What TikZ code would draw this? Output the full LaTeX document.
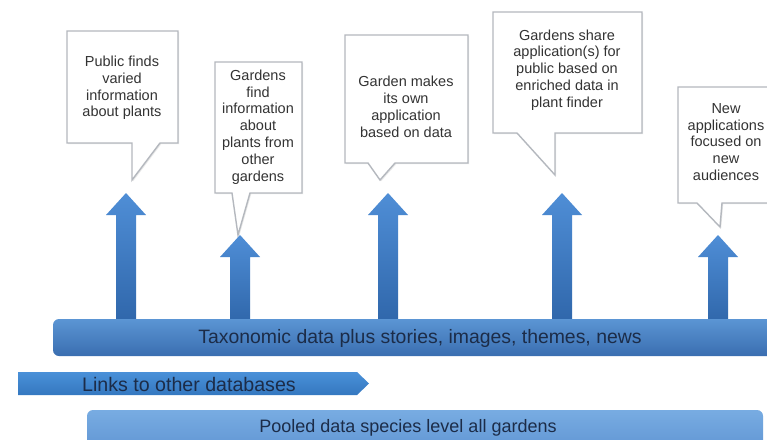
\documentclass[tikz,border=0pt]{standalone}
\usepackage{fontspec}
\setmainfont{Liberation Sans}
\usetikzlibrary{shadows}
\definecolor{arrowtop}{HTML}{4F8ED6}
\definecolor{arrowbot}{HTML}{2F66AA}
\definecolor{bartop}{HTML}{5B95D4}
\definecolor{barbot}{HTML}{3A6EB0}
\definecolor{linktop}{HTML}{4A90D8}
\definecolor{linkbot}{HTML}{3478C0}
\definecolor{pooltop}{HTML}{78ACE2}
\definecolor{poolbot}{HTML}{5E93D2}
\definecolor{bartext}{HTML}{1C2C48}
\definecolor{calltext}{HTML}{333333}
\definecolor{callline}{HTML}{B4B8BE}
\tikzset{
  callout/.style={draw=callline, line width=1.4pt, fill=white, line join=miter,
    drop shadow={shadow xshift=1.2pt, shadow yshift=-1.2pt, opacity=0.18}},
  calltxt/.style={align=center, text=calltext, font=\fontsize{14.5}{16.8}\selectfont, inner sep=0pt},
  upshaft/.style={top color=arrowtop, bottom color=arrowbot, draw=none},
  bartxt/.style={text=bartext, font=\fontsize{19.4}{22}\selectfont, inner sep=0pt},
  mainbar/.style={top color=bartop, bottom color=barbot, rounded corners=6pt},
  linkbar/.style={top color=linktop, bottom color=linkbot},
  poolbar/.style={top color=pooltop, bottom color=poolbot, rounded corners=6pt},
}
% name, x, tip y
\newcommand\bluearrow[3]{%
  \coordinate (#1) at (#2,#3);
  \path[upshaft] (#1) -- (#2+20,#3+22) -- (#2+10,#3+22) -- (#2+10,324) -- (#2-10,324)
     -- (#2-10,#3+22) -- (#2-20,#3+22) -- cycle;
}
% name, left, top, right, bottom, base left, base right, tip x, tip y
\newcommand\calloutbox[9]{%
  \coordinate (#1) at (#8,#9);
  \path[callout] (#2,#3) -- (#4,#3) -- (#4,#5) -- (#7,#5) -- (#1) -- (#6,#5) -- (#2,#5) -- cycle;
}
\begin{document}
\begin{tikzpicture}[x=1pt,y=-1pt]
\useasboundingbox (0,0) rectangle (767,439);
\clip (0,0) rectangle (767,439);
\fill[white] (0,0) rectangle (767,439);

% callouts
\calloutbox{p1}{67}{31}{178}{143}{132}{160}{132}{180}
\calloutbox{p2}{215}{62}{302}{193}{232}{250}{238}{235}
\calloutbox{p3}{345}{35}{468}{163}{368}{395}{380}{180}
\calloutbox{p4}{493}{12}{642}{133}{517}{555}{555}{175}
\calloutbox{p5}{678}{87}{780}{203}{697}{722}{720}{227}

\node[calltxt] (t1) at (122,88) {Public finds\\varied\\information\\about plants};
\node[calltxt] (t2) at (258,127) {Gardens\\find\\information\\about\\plants from\\other\\gardens};
\node[calltxt] (t3) at (406,107) {Garden makes\\its own\\application\\based on data};
\node[calltxt] (t4) at (567,70) {Gardens share\\application(s) for\\public based on\\enriched data in\\plant finder};
\node[calltxt] (t5) at (726,142) {New\\applications\\focused on\\new\\audiences};

% up arrows
\bluearrow{a1}{126}{193}
\bluearrow{a2}{240}{235}
\bluearrow{a3}{388}{193}
\bluearrow{a4}{562}{193}
\bluearrow{a5}{718}{235}

% bars
\path[mainbar] (53,319) rectangle (790,356);
\node[bartxt] (tax) at (420,338) {Taxonomic data plus stories, images, themes, news};

\path[linkbar] (18,372) -- (357,372) -- (369,383.5) -- (357,395) -- (18,395) -- cycle;
\node[bartxt, font=\fontsize{19.6}{22}\selectfont, anchor=west] (links) at (82,384) {Links to other databases};

\path[poolbar] (87,410) rectangle (763,455);
\node[bartxt, font=\fontsize{18}{22}\selectfont] (pool) at (408,428) {Pooled data species level all gardens};
\end{tikzpicture}
\end{document}
